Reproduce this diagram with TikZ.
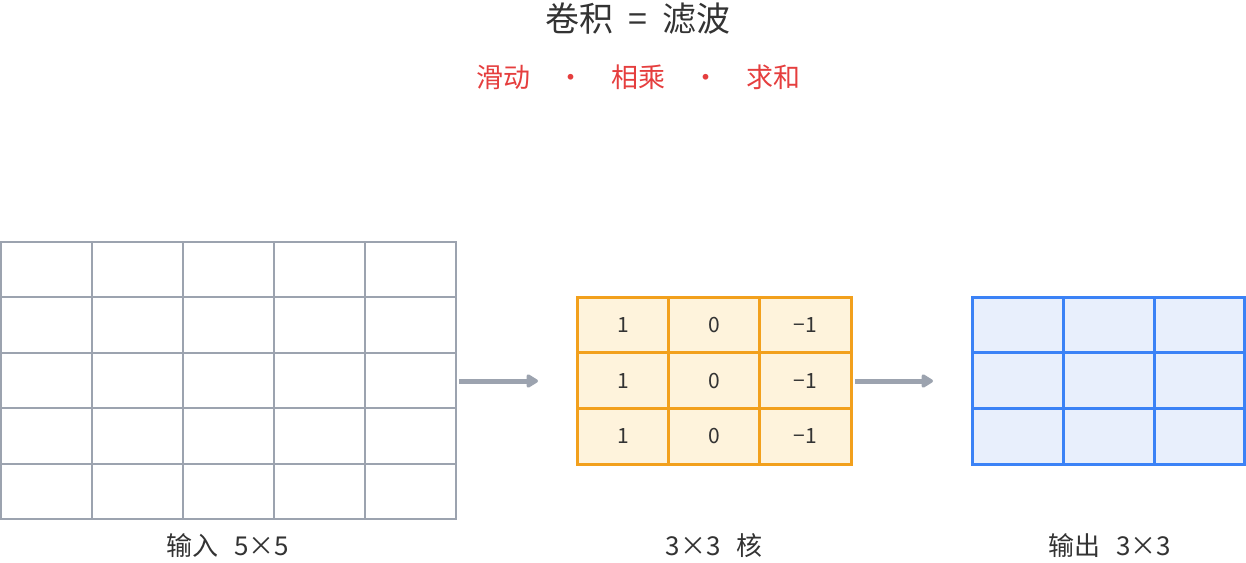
\documentclass[tikz,border=0pt]{standalone}
\usepackage{fontspec}
\setmainfont{Noto Sans CJK SC}
\usetikzlibrary{arrows.meta}
\definecolor{gline}{HTML}{9CA3AF}
\definecolor{oline}{HTML}{F2A01C}
\definecolor{ofill}{HTML}{FEF3DC}
\definecolor{bline}{HTML}{3B82F6}
\definecolor{bfill}{HTML}{E8EFFC}
\definecolor{red1}{HTML}{E53E3E}
\definecolor{tx}{HTML}{333333}
\begin{document}
\begin{tikzpicture}[x=1pt,y=-1pt,
  lbl/.style={font=\fontsize{26}{28}\selectfont,text=tx},
  num/.style={font=\fontsize{21}{24}\selectfont,text=tx},
  arr/.style={draw=gline,line width=5pt,-{Triangle[length=13pt,width=15pt,round]}}]
\useasboundingbox (0,0) rectangle (1246,562);
% input grid
\draw[gline,line width=2pt] (1,242) rectangle (456,519);
\foreach \i in {1,...,4}{\draw[gline,line width=2pt] (1+91.0*\i,242)--(1+91.0*\i,519);
 \draw[gline,line width=2pt] (1,242+55.4*\i)--(456,242+55.4*\i);}
% kernel
\fill[ofill] (577,297) rectangle (851,464);
\foreach \i in {1,2}{\draw[oline,line width=3pt] (577+91.33*\i,297)--(577+91.33*\i,464);
 \draw[oline,line width=3pt] (577,297+55.67*\i)--(851,297+55.67*\i);}
\draw[oline,line width=3pt] (577,297) rectangle (851,464);
\foreach \r in {0,1,2}{
 \node[num] at (623,325+55.67*\r) {1};
 \node[num] at (714,325+55.67*\r) {0};
 \node[num] at (805,325+55.67*\r) {−1};}
% output
\fill[bfill] (972,297) rectangle (1246,464);
\foreach \i in {1,2}{\draw[bline,line width=3pt] (972+91.33*\i,297)--(972+91.33*\i,464);
 \draw[bline,line width=3pt] (972,297+55.67*\i)--(1246,297+55.67*\i);}
\draw[bline,line width=3pt] (972,297) rectangle (1244.5,464);
% arrows
\coordinate (a1) at (459,381); \coordinate (b1) at (538,381);
\coordinate (a2) at (855,381); \coordinate (b2) at (933,381);
\draw[arr] (a1)--(b1);
\draw[arr] (a2)--(b2);
% texts
\node[font=\fontsize{34}{36}\selectfont,text=tx] (title) at (638,19) {卷积\hspace{0.45em}=\hspace{0.45em}滤波};
\node[font=\fontsize{27}{29}\selectfont,text=red1] (sub) at (638,77) {滑动\hspace{1em}·\hspace{1em}相乘\hspace{1em}·\hspace{1em}求和};
\node[lbl] (l1) at (228,546) {输入\hspace{0.6em}5×5};
\node[lbl] (l2) at (714,546) {3×3\hspace{0.6em}核};
\node[lbl] (l3) at (1110,546) {输出\hspace{0.6em}3×3};
\end{tikzpicture}
\end{document}
